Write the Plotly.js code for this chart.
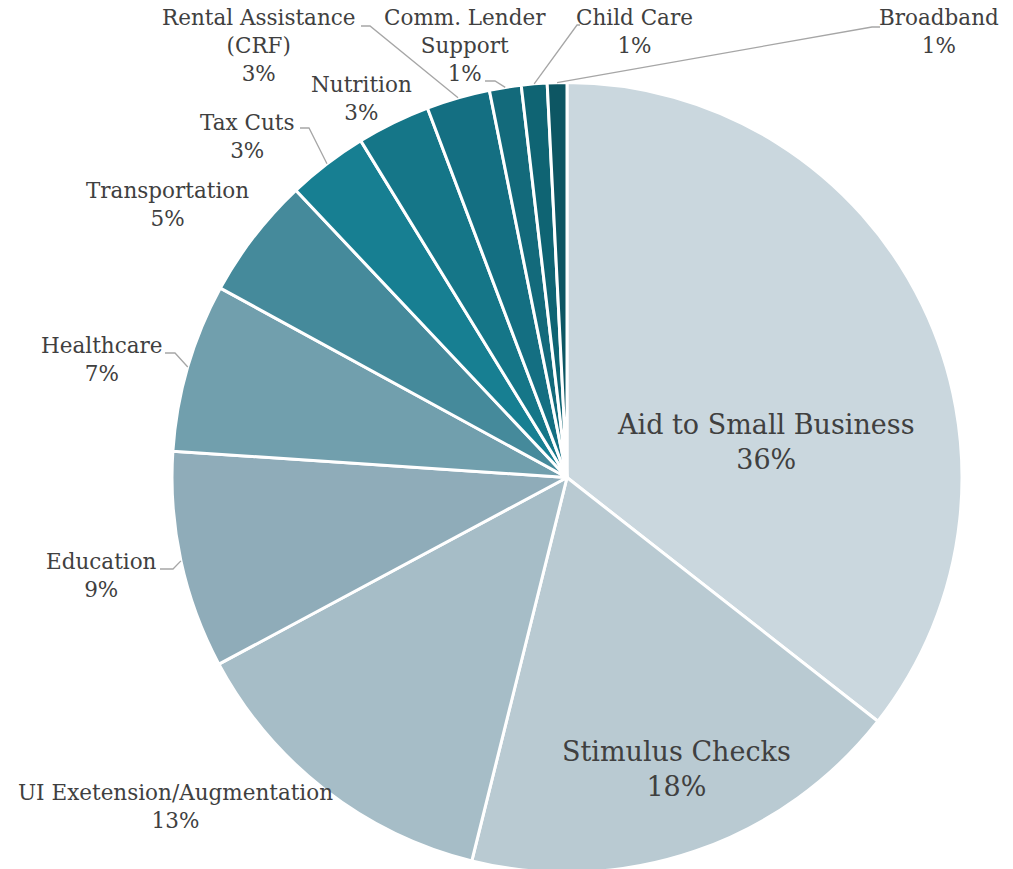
<!DOCTYPE html>
<html>
<head>
<meta charset="utf-8">
<script src="https://cdn.plot.ly/plotly-3.0.1.min.js"></script>
<style>
  html, body { margin: 0; padding: 0; overflow: hidden; background: #fff; }
  #chart { width: 1013px; height: 873px; }
</style>
</head>
<body>
<div id="chart"></div>
<script>
// ---- Data ----
const labels = [
  "Aid to Small Business", "Stimulus Checks", "UI Exetension/Augmentation",
  "Education", "Healthcare", "Transportation", "Tax Cuts", "Nutrition",
  "Rental Assistance (CRF)", "Comm. Lender Support", "Child Care", "Broadband"
];
const values = [35.6, 18.3, 13.3, 8.9, 6.9, 5.0, 3.3, 3.0, 2.6, 1.3, 1.05, 0.8];
const colors = [
  "#cad7de", "#b9cad2", "#a6bdc7", "#8facb9", "#719fad", "#458a9b",
  "#177f92", "#157688", "#146f82", "#136a7b", "#0f6473", "#0d5663"
];
// display text (line breaks) for each label
const displayLabels = [
  "Aid to Small Business", "Stimulus Checks", "UI Exetension/Augmentation",
  "Education", "Healthcare", "Transportation", "Tax Cuts", "Nutrition",
  "Rental Assistance<br>(CRF)", "Comm. Lender<br>Support", "Child Care", "Broadband"
];

// ---- Layout geometry ----
const W = 1013, H = 873;
const M = { l: 172, r: 51, t: 82, b: 0 };
const PW = W - M.l - M.r, PH = H - M.t - M.b;
const R = Math.min(PW, PH) / 2;
const CX = M.l + PW / 2, CY = M.t + PH / 2;
const px = x => (x - M.l) / PW;
const py = y => 1 - (y - M.t) / PH;

const total = values.reduce((a, b) => a + b, 0);
const pct = values.map(v => Math.round(v / total * 100) + "%");

// mid-angle of each slice (clockwise from 12 o'clock), in radians
const mids = [];
let cum = 0;
values.forEach(v => {
  mids.push((cum + v / 2) / total * 2 * Math.PI);
  cum += v;
});
const edge = i => ({ x: CX + R * Math.sin(mids[i]), y: CY - R * Math.cos(mids[i]) });

// label placement (pixel positions of text centres), font sizes
const labelPos = [
  { x: 766, y: 442, s: 27 },
  { x: 676, y: 769, s: 27 },
  { x: 175, y: 806, s: 21.5 },
  { x: 101, y: 575, s: 21.5 },
  { x: 102, y: 359, s: 21.5 },
  { x: 167, y: 204, s: 21.5 },
  { x: 247, y: 136, s: 21.5 },
  { x: 361, y: 98, s: 21.5 },
  { x: 259, y: 46, s: 21.5 },
  { x: 465, y: 46, s: 21.5 },
  { x: 634, y: 32, s: 21.5 },
  { x: 939, y: 32, s: 21.5 }
];
// leader elbows: [start x, y, elbow x] (null = no leader)
const leaders = [
  null, null, null,
  [160, 569, 173],
  [165, 353, 175],
  null,
  [300, 128, 309],
  null,
  [361, 26, 370],
  [485, 81, 495],
  [580, 25, 577],
  [880, 27, 872]
];

const annotations = labels.map((l, i) => ({
  text: displayLabels[i] + "<br>" + pct[i],
  x: px(labelPos[i].x), y: py(labelPos[i].y),
  xref: "paper", yref: "paper",
  xanchor: "center", yanchor: "middle",
  showarrow: false,
  font: { family: "DejaVu Serif, serif", size: labelPos[i].s, color: "#404040" }
}));

const shapes = [];
leaders.forEach((ld, i) => {
  if (!ld) return;
  const e = edge(i);
  shapes.push({
    type: "path", xref: "paper", yref: "paper",
    path: `M ${px(ld[0])} ${py(ld[1])} L ${px(ld[2])} ${py(ld[1])} L ${px(e.x)} ${py(e.y)}`,
    line: { color: "#a6a6a6", width: 1.3 }
  });
});

const trace = {
  type: "pie",
  labels: labels,
  values: values,
  sort: false,
  direction: "clockwise",
  rotation: 0,
  textinfo: "none",
  hoverinfo: "label+percent",
  marker: { colors: colors, line: { color: "#ffffff", width: 3 } },
  showlegend: false
};

const layout = {
  width: W, height: H,
  margin: M,
  paper_bgcolor: "#ffffff",
  plot_bgcolor: "#ffffff",
  showlegend: false,
  annotations: annotations,
  shapes: shapes,
  font: { family: "DejaVu Serif, serif", color: "#404040" }
};

Plotly.newPlot("chart", [trace], layout, { displayModeBar: false, staticPlot: true });
</script>
</body>
</html>
